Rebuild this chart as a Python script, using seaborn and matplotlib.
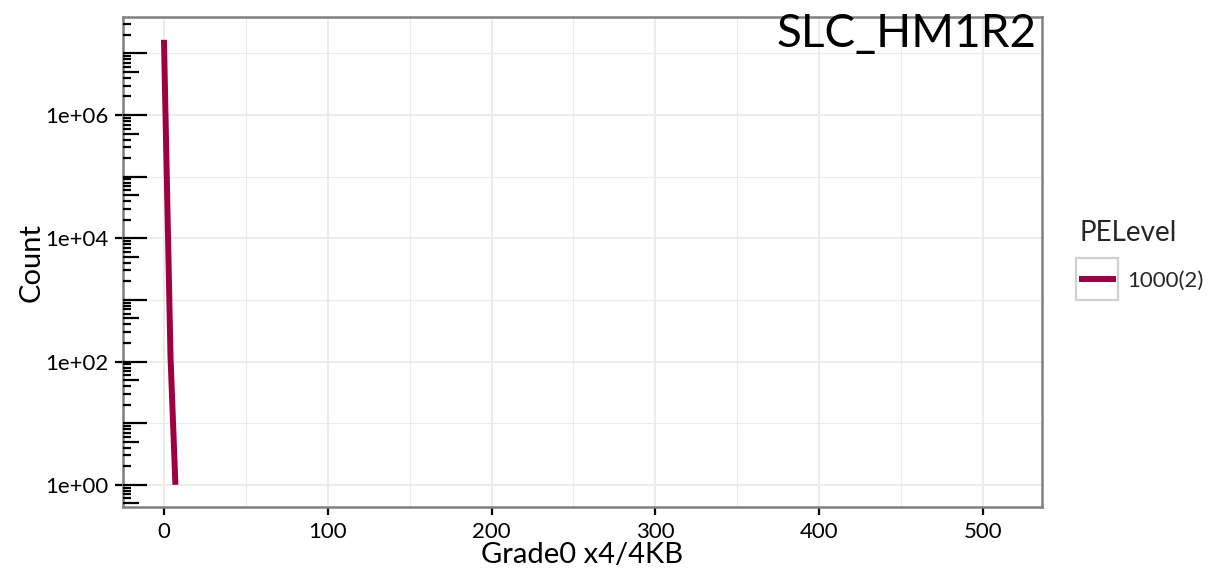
import numpy as np
import pandas as pd
import matplotlib
matplotlib.use("Agg")
import matplotlib.pyplot as plt
import matplotlib.ticker as mticker
from matplotlib.patches import Rectangle
import seaborn as sns

# ---- data ----
grade = [0, 4, 7]
count = [1.66e7, 120, 1]
pelevel = ["1000(2)", "1000(2)", "1000(2)"]
x_ticks = [0, 100, 200, 300, 400, 500]
y_label_ticks = [1e0, 1e2, 1e4, 1e6]
y_tick_labels = ["1e+00", "1e+02", "1e+04", "1e+06"]
title = "SLC_HM1R2"
line_color = "#9E0142"

df = pd.DataFrame({"Grade": grade, "Count": count, "PELevel": pelevel})

sns.set_theme(style="white")
plt.rcParams["font.family"] = ["Lato", "DejaVu Sans"]

fig = plt.figure(figsize=(12.29, 5.70), dpi=100)
ax = fig.add_axes([123/1229, 1-507/570, (1042-123)/1229, (507-17)/570])

sns.lineplot(data=df, x="Grade", y="Count", hue="PELevel", palette=[line_color],
             linewidth=4.3, ax=ax, solid_capstyle="butt", zorder=5)

ax.set_yscale("log")
ax.set_xlim(-25, 536)
ax.set_ylim(10**-0.36, 10**7.59)

# main axis: labelled ticks
ax.yaxis.set_major_locator(mticker.FixedLocator(y_label_ticks))
ax.yaxis.set_major_formatter(mticker.FixedFormatter(y_tick_labels))
ax.yaxis.set_minor_locator(mticker.FixedLocator([1e1, 1e3, 1e5, 1e7]))
ax.yaxis.set_minor_formatter(mticker.NullFormatter())
ax.xaxis.set_major_locator(mticker.FixedLocator(x_ticks))
ax.xaxis.set_minor_locator(mticker.FixedLocator([50, 150, 250, 350, 450]))

ax.tick_params(axis="both", which="major", direction="out", length=5.5, width=1.6,
               color="black", labelsize=16, labelcolor="black", pad=5, left=True, bottom=True)
ax.tick_params(axis="both", which="minor", length=0)
ax.grid(True, which="major", color="#ebebeb", linewidth=1.3)
ax.grid(True, which="minor", color="#ebebeb", linewidth=0.8)
ax.set_axisbelow(True)

for s in ax.spines.values():
    s.set_color("#808080")
    s.set_linewidth(1.8)

# log ticks (annotation_logticks style) on secondary axes
decades = [10.0**k for k in range(-1, 9)]
mids = [5 * 10.0**k for k in range(-1, 8)]
shorts = [m * 10.0**k for k in range(-1, 8) for m in (2, 3, 4, 6, 7, 8, 9)]

sec1 = ax.secondary_yaxis("left")
sec1.yaxis.set_major_locator(mticker.FixedLocator(decades))
sec1.yaxis.set_minor_locator(mticker.FixedLocator(mids))
sec1.yaxis.set_major_formatter(mticker.NullFormatter())
sec1.yaxis.set_minor_formatter(mticker.NullFormatter())
sec1.tick_params(which="major", direction="in", length=17, width=1.6, color="black")
sec1.tick_params(which="minor", direction="in", length=11.5, width=1.6, color="black")
sec1.spines["left"].set_visible(False)
sec1.set_zorder(10)

sec2 = ax.secondary_yaxis("left")
sec2.yaxis.set_major_locator(mticker.FixedLocator(shorts))
sec2.yaxis.set_minor_locator(mticker.NullLocator())
sec2.yaxis.set_major_formatter(mticker.NullFormatter())
sec2.tick_params(which="major", direction="in", length=5.8, width=1.6, color="black")
sec2.spines["left"].set_visible(False)
sec2.set_zorder(10)

ax.set_xlabel("Grade0 x4/4KB", fontsize=21, color="black", labelpad=0)
ax.set_ylabel("Count", fontsize=21, color="black", labelpad=0)

fig.text(1037/1229, 1-47/570, title, ha="right", va="baseline", fontsize=33, color="black")

sns.move_legend(ax, loc="upper left", bbox_to_anchor=(1079/1229, 1-220/570),
                bbox_transform=fig.transFigure, frameon=False, title="PELevel",
                fontsize=16, title_fontsize=20, handlelength=1.65, handletextpad=0.5,
                borderaxespad=0, borderpad=0, labelspacing=0, alignment="left")
leg = ax.get_legend()
leg._legend_box.sep = 18
for h in leg.legend_handles:
    h.set_linewidth(4.3)
    h.set_solid_capstyle("butt")

fig.canvas.draw()
ln = leg.get_lines()[0]
bb = ln.get_window_extent(fig.canvas.get_renderer())
cx = (bb.x0 + bb.x1) / 2
cy = (bb.y0 + bb.y1) / 2
box = 42
fig.patches.append(Rectangle(((cx - box/2)/1229, (cy - box/2)/570), box/1229, box/570,
                             transform=fig.transFigure, fill=False,
                             edgecolor="#d0d0d0", linewidth=1.6))

fig.savefig("out.png", dpi=100)
